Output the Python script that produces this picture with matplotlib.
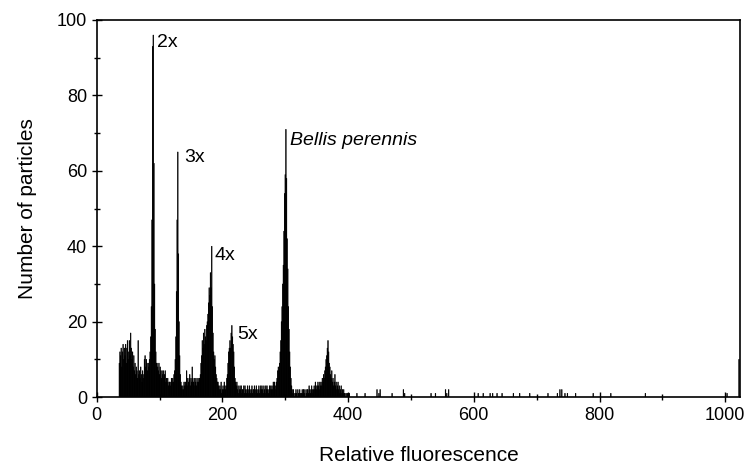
import numpy as np
import matplotlib
matplotlib.use("Agg")
import matplotlib.pyplot as plt
from matplotlib.ticker import MultipleLocator

plt.rcParams["font.family"] = ["Liberation Sans", "DejaVu Sans"]

# dense part of the histogram: counts per channel, starting at channel 36
first_channel = 36
dense_counts = [
    9, 12, 11, 13, 8, 12, 14, 10, 13, 11,          # 36-45
    14, 9, 13, 15, 10, 12, 15, 11, 17, 13,         # 46-55
    10, 12, 8, 11, 7, 9, 6, 8, 7, 5,               # 56-65
    15, 6, 7, 5, 8, 6, 4, 7, 5, 6,                 # 66-75
    10, 11, 8, 10, 9, 7, 9, 8, 10, 12,             # 76-85
    16, 24, 47, 93, 96, 62, 30, 18, 12, 9,         # 86-95  (2x)
    9, 8, 7, 9, 6, 8, 7, 5, 7, 6,                  # 96-105
    7, 5, 6, 7, 4, 5, 4, 5, 3, 4,                  # 106-115
    4, 3, 4, 5, 4, 5, 4, 6, 7, 10,                 # 116-125
    16, 28, 47, 65, 38, 20, 11, 6, 4, 3,           # 126-135 (3x)
    2, 3, 2, 4, 3, 4, 3, 7, 5, 3,                  # 136-145
    4, 5, 6, 3, 5, 4, 8, 5, 4, 3,                  # 146-155
    5, 4, 5, 3, 4, 5, 4, 5, 5, 6,                  # 156-165
    9, 11, 15, 13, 17, 14, 18, 16, 15, 19,         # 166-175
    20, 22, 25, 29, 27, 33, 29, 40, 24, 17,        # 176-185 (4x)
    12, 10, 11, 8, 6, 5, 4, 4, 3, 2,               # 186-195
    3, 2, 4, 1, 2, 3, 2, 4, 3, 2,                  # 196-205
    3, 5, 6, 9, 12, 13, 15, 13, 17, 19,            # 206-215 (5x)
    16, 14, 12, 8, 5, 4, 3, 4, 2, 3,               # 216-225
    1, 2, 3, 2, 3, 1, 2, 2, 3, 1,                  # 226-235
    3, 2, 1, 2, 3, 2, 1, 3, 2, 1,                  # 236-245
    2, 3, 1, 2, 2, 3, 1, 2, 3, 2,                  # 246-255
    1, 2, 3, 1, 2, 3, 2, 3, 2, 1,                  # 256-265
    3, 2, 1, 3, 2, 3, 2, 1, 2, 3,                  # 266-275
    2, 3, 2, 3, 2, 4, 3, 4, 3, 2,                  # 276-285
    4, 5, 7, 8, 7, 9, 12, 15, 20, 24,              # 286-295
    30, 35, 44, 54, 59, 71, 58, 42, 34, 24,        # 296-305 (Bellis)
    18, 12, 8, 5, 3, 2, 1, 2, 1, 0,                # 306-315
    1, 2, 1, 0, 2, 1, 1, 2, 1, 0,                  # 316-325
    1, 2, 1, 2, 2, 1, 0, 2, 1, 2,                  # 326-335
    2, 1, 3, 2, 1, 2, 3, 2, 1, 2,                  # 336-345
    3, 2, 4, 3, 2, 3, 4, 3, 2, 4,                  # 346-355
    3, 4, 3, 5, 4, 6, 5, 7, 8, 10,                 # 356-365
    11, 13, 15, 12, 9, 8, 6, 5, 7, 4,              # 366-375
    5, 3, 4, 6, 3, 4, 2, 3, 4, 2,                  # 376-385
    3, 1, 2, 3, 1, 2, 1, 2, 1, 1,                  # 386-395
]

# sparse tail: isolated channels above 395
tail_channels = [397, 399, 402, 414, 427, 446, 449, 451, 470, 488, 490, 532, 539,
                 555, 557, 560, 607, 615, 626, 630, 637, 645, 663, 673, 689,
                 718, 733, 737, 740, 745, 749, 762, 790, 818, 873, 1003, 1022]
tail_counts = [1, 1, 1, 1, 1, 2, 1, 2, 1, 2, 1, 1, 1,
               2, 1, 2, 1, 1, 1, 1, 1, 1, 1, 1, 1,
               1, 1, 2, 2, 1, 1, 1, 1, 1, 1, 1, 10]

peak_labels = ["2x", "3x", "4x", "5x", "Bellis perennis"]
label_x = [96, 140, 188, 223, 308]
label_y = [94, 63.5, 37.5, 16.5, 68]

channels = np.arange(first_channel, first_channel + len(dense_counts))
channels = np.concatenate([channels, tail_channels])
counts = np.concatenate([dense_counts, tail_counts])

fig = plt.figure(figsize=(7.44, 4.65), dpi=100)
ax = fig.add_axes([0.130, 0.146, 0.865, 0.811])

# thin edge so that single-channel spikes stay visible as hairlines
ax.bar(channels, counts, width=1.0, color="black", edgecolor="black",
       linewidth=0.4, snap=False)

for txt, x, y in zip(peak_labels, label_x, label_y):
    style = "italic" if txt.startswith("Bellis") else "normal"
    ax.text(x, y, txt, fontsize=14, va="center", ha="left", style=style)

ax.set_xlim(0, 1024)
ax.set_ylim(0, 100)
ax.xaxis.set_major_locator(MultipleLocator(200))
ax.xaxis.set_minor_locator(MultipleLocator(100))
ax.yaxis.set_major_locator(MultipleLocator(20))
ax.yaxis.set_minor_locator(MultipleLocator(10))
ax.tick_params(which="major", direction="inout", length=7, width=1, labelsize=13)
ax.tick_params(which="minor", direction="inout", length=4, width=1)

ax.set_xlabel("Relative fluorescence", fontsize=15, labelpad=16)
ax.set_ylabel("Number of particles", fontsize=15, labelpad=14)

for s in ax.spines.values():
    s.set_linewidth(1.2)

plt.savefig("out.png", dpi=100)
